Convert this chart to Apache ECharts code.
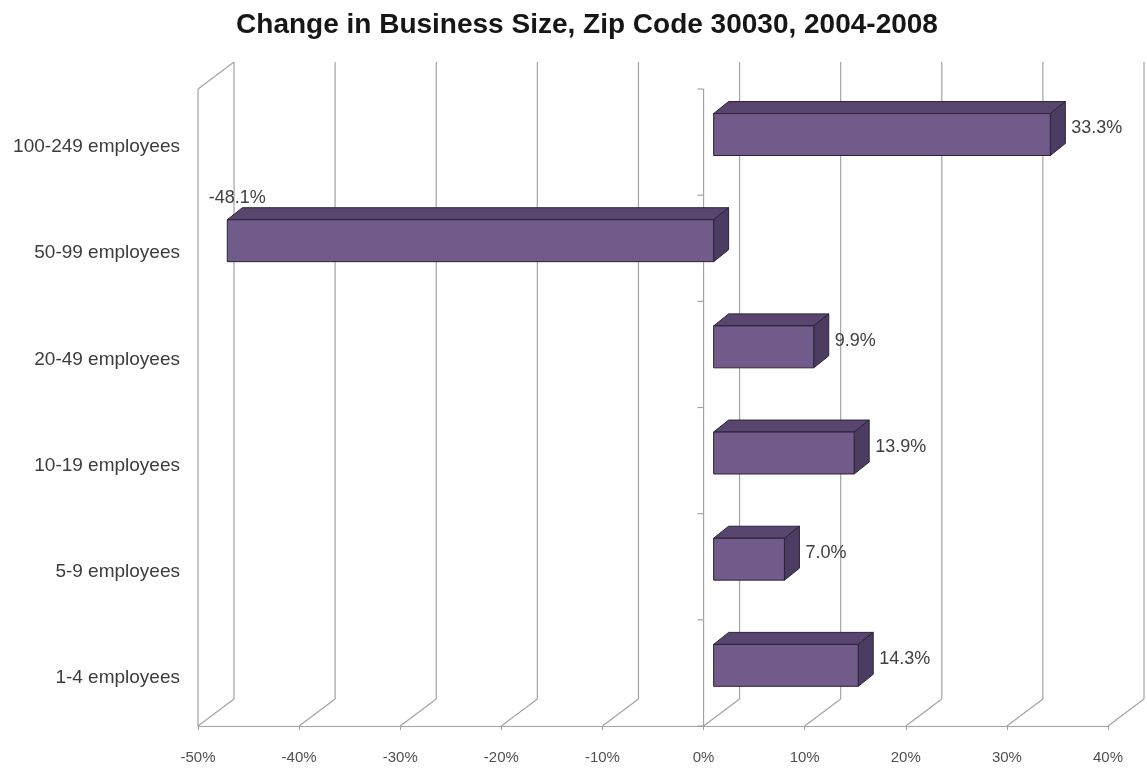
<!DOCTYPE html>
<html>
<head>
<meta charset="utf-8">
<title>Change in Business Size, Zip Code 30030, 2004-2008</title>
<script src="https://cdn.jsdelivr.net/npm/echarts@6/dist/echarts.min.js"></script>
<style>
  html, body { margin: 0; padding: 0; background: #ffffff; }
  #chart { width: 1147px; height: 771px; }
</style>
</head>
<body>
<div id="chart"></div>
<script>
// Business size classes, listed bottom to top
const categories = ['1-4 employees', '5-9 employees', '10-19 employees', '20-49 employees', '50-99 employees', '100-249 employees'];
// Percent change in number of establishments, 2004-2008
const changePct = [14.3, 7.0, 13.9, 9.9, -48.1, 33.3];
// Value axis ticks (percent)
const xTicks = [-50, -40, -30, -20, -10, 0, 10, 20, 30, 40];

const FONT = "'Liberation Sans', Arial, sans-serif";
const GRID_COLOR = '#a3a3a3';
// oblique projection of the chart's full depth (back wall offset)
const DEPTH = [36, -27];
// bar placement inside the depth and the bar's own thickness
const BAR_FRONT = 0.28;
const BAR_DEPTH = [15, -12];
const BAR_FRACTION = 0.395;

const chart = echarts.init(document.getElementById('chart'), null, { renderer: 'canvas' });

function line(x1, y1, x2, y2, color, width) {
  return {
    type: 'line',
    shape: { x1: x1, y1: y1, x2: x2, y2: y2 },
    style: { stroke: color || GRID_COLOR, lineWidth: width || 1.2 }
  };
}

// Back-wall gridlines and floor diagonals, one per value tick
function renderWalls(params, api) {
  const cs = params.coordSys;
  const top = cs.y, bottom = cs.y + cs.height;
  const fx = api.coord([api.value(0), 0])[0];
  const bx = fx + DEPTH[0];
  const children = [
    line(bx, top + DEPTH[1], bx, bottom + DEPTH[1]),
    line(fx, bottom, bx, bottom + DEPTH[1])
  ];
  if (params.dataIndex === 0) {
    // left wall: front edge and top edge
    children.push(line(fx, top, fx, bottom));
    children.push(line(fx, top, bx, top + DEPTH[1]));
  }
  return { type: 'group', children: children };
}

// Category axis standing at zero on the front plane, with boundary ticks
function renderCategoryAxis(params, api) {
  const cs = params.coordSys;
  const top = cs.y, bottom = cs.y + cs.height;
  const x0 = api.coord([0, 0])[0];
  const band = cs.height / categories.length;
  const children = [line(x0, top, x0, bottom)];
  for (let k = 0; k <= categories.length; k++) {
    const y = top + k * band;
    children.push(line(x0 - 6, y, x0, y));
  }
  return { type: 'group', children: children };
}

// Box-shaped bars with front, top and right faces plus a value label
function renderBar(params, api) {
  const v = api.value(0);
  const idx = api.value(1);
  const p0 = api.coord([0, idx]);
  const p1 = api.coord([v, idx]);
  const band = api.size([0, 1])[1];
  const h = band * BAR_FRACTION;
  const ox = DEPTH[0] * BAR_FRONT, oy = DEPTH[1] * BAR_FRONT;
  const xL = Math.min(p0[0], p1[0]) + ox;
  const xR = Math.max(p0[0], p1[0]) + ox;
  const yT = p0[1] + oy - h / 2;
  const yB = yT + h;
  const dx = BAR_DEPTH[0], dy = BAR_DEPTH[1];
  const edge = { stroke: '#2c2238', lineWidth: 1, lineJoin: 'round' };
  const text = v.toFixed(1) + '%';
  const label = v >= 0
    ? { type: 'text', style: { text: text, x: xR + dx + 6, y: p0[1] + oy - 6, align: 'left', verticalAlign: 'middle', font: '18px ' + FONT, fill: '#404040' } }
    : { type: 'text', style: { text: text, x: xL + 10, y: yT + dy - 10, align: 'center', verticalAlign: 'middle', font: '18px ' + FONT, fill: '#404040' } };
  return {
    type: 'group',
    children: [
      { type: 'polygon', shape: { points: [[xL, yT], [xL + dx, yT + dy], [xR + dx, yT + dy], [xR, yT]] }, style: Object.assign({ fill: '#58466f' }, edge) },
      { type: 'polygon', shape: { points: [[xR, yT], [xR + dx, yT + dy], [xR + dx, yB + dy], [xR, yB]] }, style: Object.assign({ fill: '#4c3c62' }, edge) },
      { type: 'rect', shape: { x: xL, y: yT, width: xR - xL, height: h }, style: Object.assign({ fill: '#705b8a' }, edge) },
      label
    ]
  };
}

const option = {
  backgroundColor: '#ffffff',
  animation: false,
  title: {
    text: 'Change in Business Size, Zip Code 30030, 2004-2008',
    left: 582,
    textAlign: 'center',
    top: 6,
    textStyle: { fontFamily: FONT, fontSize: 28, fontWeight: 'bold', color: '#161616' }
  },
  grid: { left: 198, right: 39, top: 89, bottom: 45 },
  xAxis: {
    type: 'value',
    min: -50,
    max: 40,
    interval: 10,
    axisLine: { show: true, lineStyle: { color: GRID_COLOR, width: 1.2 } },
    axisTick: { show: true, length: 4, lineStyle: { color: GRID_COLOR } },
    splitLine: { show: false },
    axisLabel: {
      margin: 24,
      fontFamily: FONT,
      fontSize: 15,
      color: '#505050',
      formatter: function (val) { return xTicks.indexOf(val) >= 0 ? val + '%' : ''; }
    }
  },
  yAxis: {
    type: 'category',
    data: categories,
    axisLine: { show: false },
    axisTick: { show: false },
    splitLine: { show: false },
    axisLabel: {
      margin: 18,
      fontFamily: FONT,
      fontSize: 19,
      color: '#3c3c3c',
      verticalAlign: 'top',
      lineHeight: 10
    }
  },
  series: [
    {
      type: 'custom',
      name: 'walls',
      renderItem: renderWalls,
      data: xTicks.map(function (t) { return [t]; }),
      encode: { x: 0 },
      silent: true,
      z: 1
    },
    {
      type: 'custom',
      name: 'category axis',
      renderItem: renderCategoryAxis,
      data: [[0]],
      encode: { x: 0 },
      silent: true,
      z: 2
    },
    {
      type: 'custom',
      name: 'Change',
      renderItem: renderBar,
      data: changePct.map(function (v, i) { return [v, i]; }),
      encode: { x: 0, y: 1 },
      z: 3
    }
  ]
};

chart.setOption(option);
</script>
</body>
</html>
